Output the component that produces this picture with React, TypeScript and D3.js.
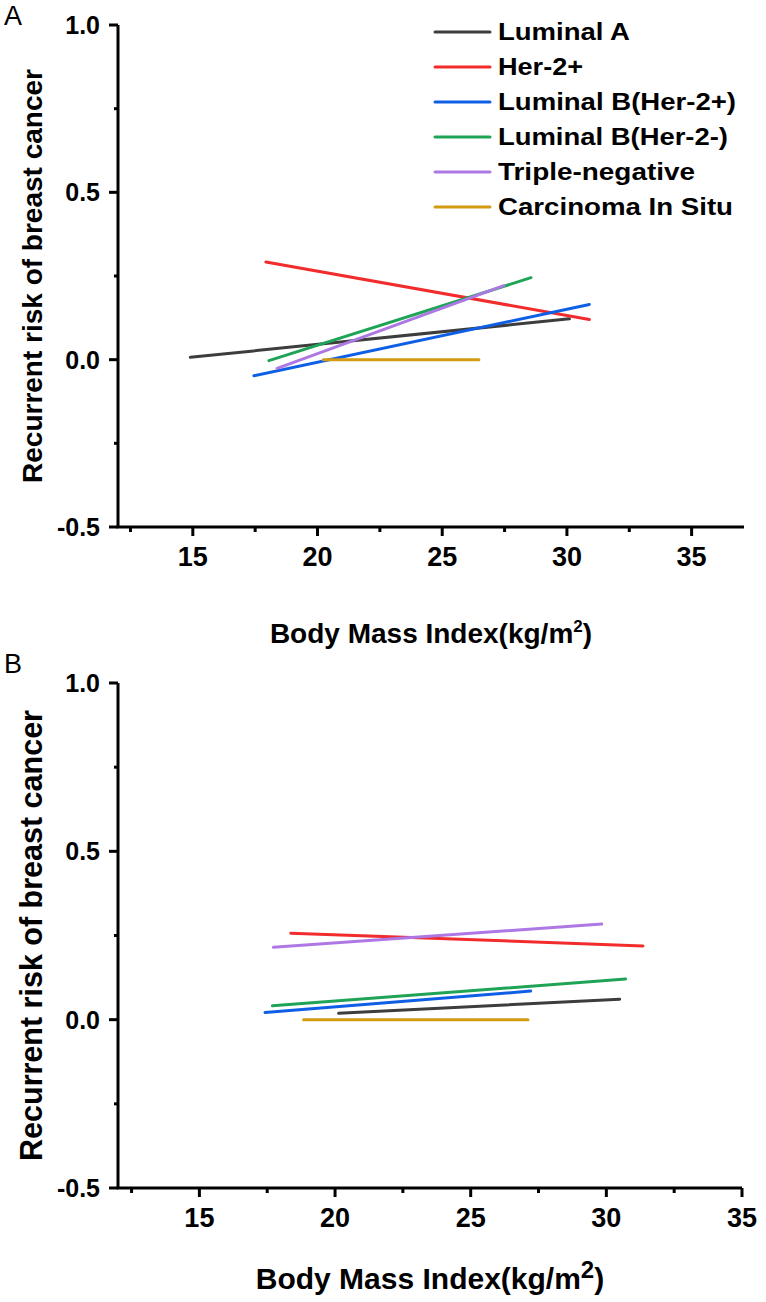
import React from "react";
import * as d3 from "d3";

const seriesNames = [
  "Luminal A",
  "Her-2+",
  "Luminal B(Her-2+)",
  "Luminal B(Her-2-)",
  "Triple-negative",
  "Carcinoma In Situ",
];
const seriesColors = ["#3d3d3d", "#f22c2c", "#0e5fe6", "#1fa457", "#ad78e4", "#d29b12"];

// Panel A: start / end of each fitted line
const aX0 = [14.9, 17.93, 17.45, 18.05, 18.38, 20.23];
const aX1 = [30.1, 30.9, 30.9, 28.56, 27.47, 26.47];
const aY0 = [0.007, 0.292, -0.048, -0.003, -0.026, 0.0];
const aY1 = [0.122, 0.12, 0.165, 0.245, 0.221, 0.0];

// Panel B
const bX0 = [20.13, 18.37, 17.42, 17.69, 17.73, 18.84];
const bX1 = [30.49, 31.35, 27.21, 30.71, 29.83, 27.11];
const bY0 = [0.019, 0.257, 0.021, 0.041, 0.215, 0.0];
const bY1 = [0.061, 0.219, 0.085, 0.121, 0.284, 0.0];

const xMajor = [15, 20, 25, 30, 35];
const xMinor = [12.5, 17.5, 22.5, 27.5, 32.5];
const yMajor = [1.0, 0.5, 0.0, -0.5];
const yMinor = [0.75, 0.25, -0.25];

const legendWidths = [132, 85, 238, 230, 197, 235];

const FONT = "'Liberation Sans', Arial, Helvetica, sans-serif";

type PanelProps = {
  letter: string;
  letterY: number;
  xDomain: [number, number];
  xRange: [number, number];
  yRange: [number, number];
  x0: number[];
  x1: number[];
  y0: number[];
  y1: number[];
  yLabelSize: number;
  xLabelSize: number;
  xLabelY: number;
  supSize: number;
  legend: boolean;
};

function Panel(p: PanelProps) {
  const x = d3.scaleLinear().domain(p.xDomain).range(p.xRange);
  const y = d3.scaleLinear().domain([-0.5, 1]).range(p.yRange);
  const fmt = (v: number) => d3.format(".1f")(v).replace("\u2212", "-");
  const axisY = y(-0.5);
  const axisX = x(p.xDomain[0]);
  const line = d3.line<[number, number]>().x((d) => x(d[0])).y((d) => y(d[1]));
  const yMid = (p.yRange[0] + p.yRange[1]) / 2;
  const xMid = (p.xRange[0] + p.xRange[1]) / 2;
  return (
    <g fontFamily={FONT}>
      <text x={4} y={p.letterY} fontSize={27} fill="#000">{p.letter}</text>
      {seriesNames.map((n, i) => (
        <path
          key={n}
          d={line([[p.x0[i], p.y0[i]], [p.x1[i], p.y1[i]]]) || ""}
          stroke={seriesColors[i]}
          strokeWidth={3}
          strokeLinecap="round"
          fill="none"
        />
      ))}
      <line x1={axisX} x2={axisX} y1={y(1)} y2={axisY} stroke="#000" strokeWidth={3} />
      {yMajor.map((v) => (
        <g key={"ym" + v}>
          <line x1={axisX - 9} x2={axisX} y1={y(v)} y2={y(v)} stroke="#000" strokeWidth={3} />
          <text x={100} y={y(v)} dy="0.36em" textAnchor="end" fontSize={25} fontWeight="bold">
            {fmt(v)}
          </text>
        </g>
      ))}
      {yMinor.map((v) => (
        <line key={"yn" + v} x1={axisX - 4} x2={axisX} y1={y(v)} y2={y(v)} stroke="#000" strokeWidth={3} />
      ))}
      <line x1={axisX - 1.5} x2={p.xRange[1]} y1={axisY} y2={axisY} stroke="#000" strokeWidth={3} />
      {xMajor.map((v) => (
        <g key={"xm" + v}>
          <line x1={x(v)} x2={x(v)} y1={axisY} y2={axisY + 9} stroke="#000" strokeWidth={3} />
          <text x={x(v)} y={axisY + 39} textAnchor="middle" fontSize={27} fontWeight="bold">
            {v}
          </text>
        </g>
      ))}
      {xMinor.map((v) => (
        <line key={"xn" + v} x1={x(v)} x2={x(v)} y1={axisY} y2={axisY + 5} stroke="#000" strokeWidth={3} />
      ))}
      <text
        transform={`translate(42,${yMid}) rotate(-90)`}
        textAnchor="middle"
        fontSize={p.yLabelSize}
        fontWeight="bold"
      >
        Recurrent risk of breast cancer
      </text>
      <text x={xMid} y={p.xLabelY} textAnchor="middle" fontSize={p.xLabelSize} fontWeight="bold">
        Body Mass Index(kg/m
        <tspan fontSize={p.supSize} dy={-11}>2</tspan>
        <tspan dy={11}>)</tspan>
      </text>
      {p.legend &&
        seriesNames.map((n, i) => {
          const ly = 32 + i * 35;
          return (
            <g key={"lg" + n}>
              <line x1={435} x2={490} y1={ly} y2={ly} stroke={seriesColors[i]} strokeWidth={3} strokeLinecap="round" />
              <text
                x={498}
                y={ly + 8}
                fontSize={23}
                fontWeight="bold"
                textLength={legendWidths[i]}
                lengthAdjust="spacingAndGlyphs"
              >
                {n}
              </text>
            </g>
          );
        })}
    </g>
  );
}

export default function App() {
  return (
    <svg
      width={766}
      height={1302}
      viewBox="0 0 766 1302"
      style={{ position: "absolute", left: 0, top: 0, background: "#fff" }}
    >
      <rect width={766} height={1302} fill="#fff" />
      <Panel
        letter="A"
        letterY={25}
        xDomain={[12, 37.1]}
        xRange={[118, 744]}
        yRange={[527, 25]}
        x0={aX0}
        x1={aX1}
        y0={aY0}
        y1={aY1}
        yLabelSize={28}
        xLabelSize={28}
        xLabelY={643}
        supSize={17}
        legend={true}
      />
      <Panel
        letter="B"
        letterY={673}
        xDomain={[12, 35]}
        xRange={[118, 742]}
        yRange={[1188, 683]}
        x0={bX0}
        x1={bX1}
        y0={bY0}
        y1={bY1}
        yLabelSize={30.5}
        xLabelSize={30}
        xLabelY={1289}
        supSize={24}
        legend={false}
      />
    </svg>
  );
}
